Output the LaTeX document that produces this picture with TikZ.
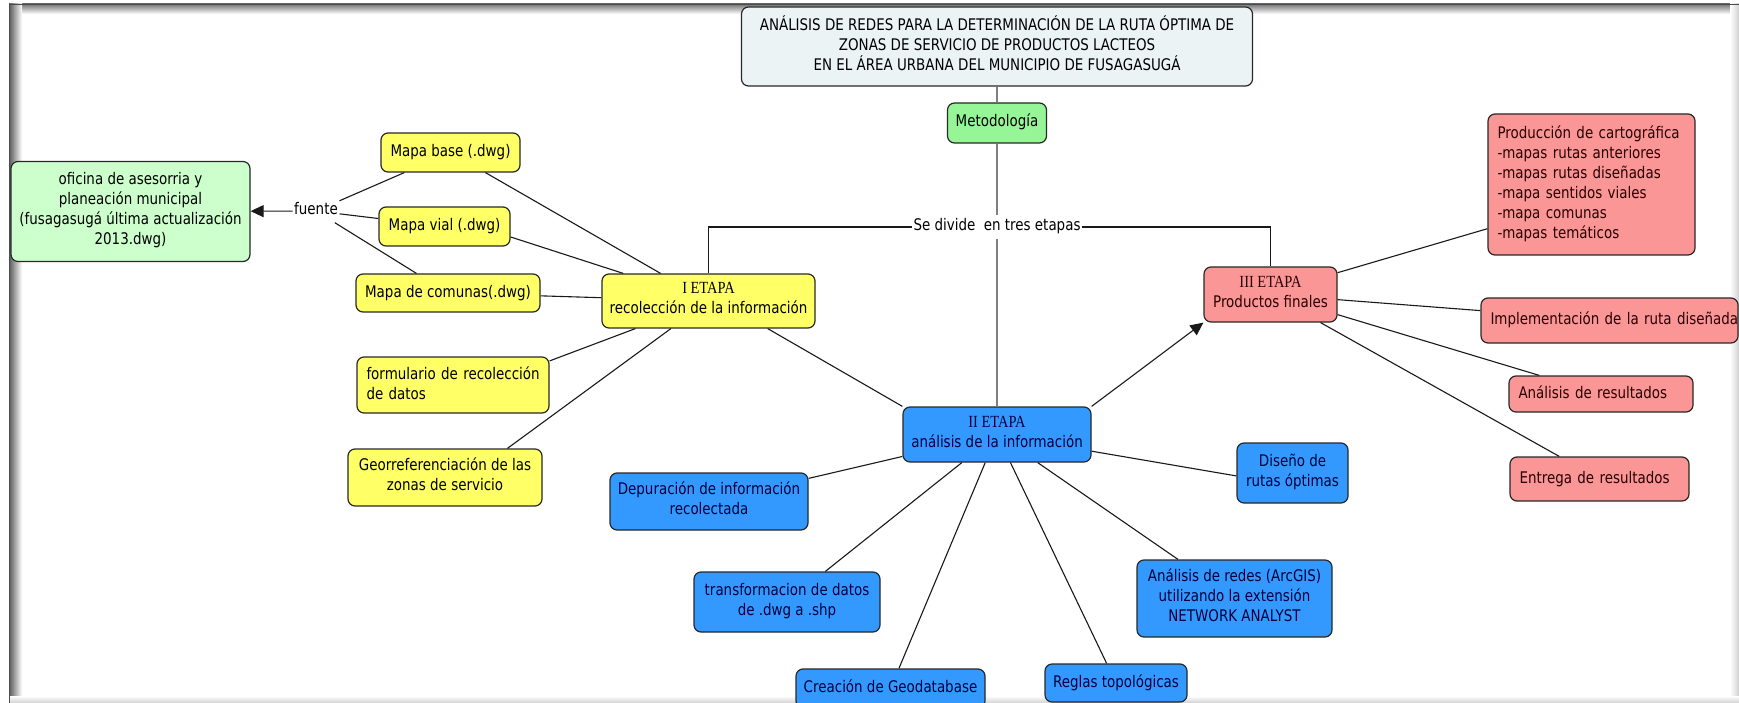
\documentclass[tikz,border=0pt]{standalone}
\usepackage{fontspec}
\setmainfont[FakeStretch=0.84]{DejaVu Sans}
\newfontfamily\etapafont[FakeStretch=0.85]{Liberation Serif}
\usetikzlibrary{arrows.meta}

\definecolor{edgecol}{RGB}{40,40,40}
\definecolor{yel}{RGB}{255,255,102}
\definecolor{palegreen}{RGB}{204,255,204}
\definecolor{metogreen}{RGB}{150,245,150}
\definecolor{blu}{RGB}{51,153,255}
\definecolor{sal}{RGB}{250,150,150}
\definecolor{titlefill}{RGB}{235,243,245}
\definecolor{navytext}{RGB}{0,0,60}
\definecolor{redtext}{RGB}{40,0,0}

% one unbreakable line of left-aligned box text
\newcommand\boxline[1]{\mbox{#1}}
% serif stage heading
\newcommand\etapa[1]{{\etapafont\fontsize{17}{20}\selectfont #1}}

\tikzset{
  base/.style={draw=edgecol, line width=1.2pt, rounded corners=7pt,
    inner xsep=2pt, inner ysep=0pt, align=center,
    execute at begin node=\strut, execute at end node=\strut},
  ybox/.style={base, fill=yel},
  gbox/.style={base, fill=palegreen},
  mbox/.style={base, fill=metogreen},
  tbox/.style={base, fill=titlefill},
  bbox/.style={base, fill=blu, text=navytext},
  rbox/.style={base, fill=sal, text=redtext},
  lefttext/.style={align=left, inner xsep=9.5pt},
  phrase/.style={inner sep=1.5pt, execute at begin node=\strut},
  link/.style={line width=1.1pt, draw=black!90},
  grlink/.style={line width=1.1pt, draw=black!50},
  tip/.style={-{Triangle[length=13pt,width=12pt]}}
}

\begin{document}
\begin{tikzpicture}[x=1pt, y=-1pt, font=\fontsize{16}{20}\selectfont]
  % page and inset frame shadow
  \fill[white] (0,0) rectangle (1739,703);
  \useasboundingbox (0,0) rectangle (1739,703);
  \shade[top color=black!55, bottom color=white] (9,4) rectangle (1739,14);
  \shade[left color=black!65, right color=white] (9,4) rectangle (22,703);
  \shade[left color=white, right color=black!18] (1730,4) rectangle (1739,703);
  \shade[top color=white, bottom color=black!18] (9,696) rectangle (1739,703);
  \draw[black!70, line width=1pt] (9.5,703) -- (9.5,4.5) -- (1739,4.5);

  % title and method
  \node[tbox, minimum width=511pt, minimum height=79pt] (title) at (997,46.5)
    {ANÁLISIS DE REDES PARA LA DETERMINACIÓN DE LA RUTA ÓPTIMA DE\\
     ZONAS DE SERVICIO DE PRODUCTOS LACTEOS\\
     EN EL ÁREA URBANA DEL MUNICIPIO DE FUSAGASUGÁ};
  \node[mbox, minimum width=99pt, minimum height=40pt] (meto) at (997,123) {Metodología};
  \node[phrase] (sedivide) at (997,227) {Se divide\ \ en tres etapas};

  % stage I
  \node[ybox, minimum width=213pt, minimum height=54pt] (e1) at (708.5,301)
    {\etapa{I ETAPA}\\recolección de la información};
  \node[ybox, minimum width=139pt, minimum height=39pt] (mbase) at (450.5,152.5) {Mapa base (.dwg)};
  \node[ybox, minimum width=131pt, minimum height=39pt] (mvial) at (444.5,226.5) {Mapa vial (.dwg)};
  \node[ybox, minimum width=184pt, minimum height=38pt] (mcom) at (448,293) {Mapa de comunas(.dwg)};
  \node[ybox, lefttext, text width=173pt, minimum height=56pt] (form) at (453,385)
    {\boxline{formulario de recolección}\\\boxline{de datos}};
  \node[ybox, minimum width=194pt, minimum height=57pt] (geo) at (445,477.5)
    {Georreferenciación de las\\zonas de servicio};
  \node[phrase] (fuente) at (316,211) {fuente};
  \node[gbox, minimum width=239pt, minimum height=100pt] (oficina) at (130.5,211.5)
    {oficina de asesorria y\\planeación municipal\\(fusagasugá última actualización\\2013.dwg)};

  % stage II
  \node[bbox, minimum width=188pt, minimum height=55pt] (e2) at (997,434.5)
    {\etapa{II ETAPA}\\análisis de la información};
  \node[bbox, minimum width=198pt, minimum height=57pt] (depu) at (709,501.5)
    {Depuración de información\\recolectada};
  \node[bbox, minimum width=186pt, minimum height=60pt] (transf) at (787,602)
    {transformacion de datos\\de .dwg a .shp};
  \node[bbox, minimum width=189pt, minimum height=39pt] (geodb) at (890.5,688.5)
    {Creación de Geodatabase};
  \node[bbox, minimum width=142pt, minimum height=38pt] (reglas) at (1116,683)
    {Reglas topológicas};
  \node[bbox, minimum width=195pt, minimum height=77pt] (aredes) at (1234.5,598.5)
    {Análisis de redes (ArcGIS)\\utilizando la extensión\\NETWORK ANALYST};
  \node[bbox, minimum width=111pt, minimum height=60pt] (diseno) at (1292.5,473)
    {Diseño de\\rutas óptimas};

  % stage III
  \node[rbox, minimum width=133pt, minimum height=55pt] (e3) at (1270.5,294.5)
    {\etapa{III ETAPA}\\Productos finales};
  \node[rbox, lefttext, text width=188pt, minimum height=141pt] (prod) at (1591.5,184.5)
    {\boxline{Producción de cartográfica}\\\boxline{-mapas rutas anteriores}\\\boxline{-mapas rutas diseñadas}\\
     \boxline{-mapa sentidos viales}\\\boxline{-mapa comunas}\\\boxline{-mapas temáticos}};
  \node[rbox, lefttext, text width=238pt, minimum height=45pt] (impl) at (1609.5,320.5)
    {\boxline{Implementación de la ruta diseñada}};
  \node[rbox, lefttext, text width=165pt, minimum height=36pt] (ares) at (1601,394)
    {\boxline{Análisis de resultados}};
  \node[rbox, lefttext, text width=160pt, minimum height=44pt] (entrega) at (1599.5,479)
    {\boxline{Entrega de resultados}};

  % connectors: method
  \draw[grlink] (title) -- (meto);
  \draw[grlink] (meto) -- (sedivide);
  \draw[grlink] (sedivide) -- (e2);
  \draw[link] (sedivide.west) -| (e1.north);
  \draw[link] (sedivide.east) -| (e3.north);

  % connectors: stage I
  \draw[link] (mbase) -- (fuente);
  \draw[link] (mvial) -- (fuente);
  \draw[link] (mcom) -- (fuente);
  \draw[link, tip] (fuente) -- (oficina);
  \draw[link] (mbase) -- (e1);
  \draw[link] (mvial.-9) -- (e1);
  \draw[link] (mcom) -- (e1);
  \draw[link] (form.14) -- (e1);
  \draw[link] (geo.25) -- (e1);
  \draw[link] (e1.-25) -- (e2.north west);

  % connectors: stage II
  \draw[link] (e2) -- (depu);
  \draw[link] (e2) -- (transf);
  \draw[link] (e2) -- (geodb);
  \draw[link] (e2) -- (reglas);
  \draw[link] (e2) -- (aredes);
  \draw[link] (e2.-10) -- (diseno.183);
  \draw[link, tip] (e2.north east) -- (e3.south west);

  % connectors: stage III
  \draw[link] (e3.18) -- (prod.203);
  \draw[link] (e3) -- (impl);
  \draw[link] (e3) -- (ares);
  \draw[link] (e3) -- (entrega);
\end{tikzpicture}
\end{document}
